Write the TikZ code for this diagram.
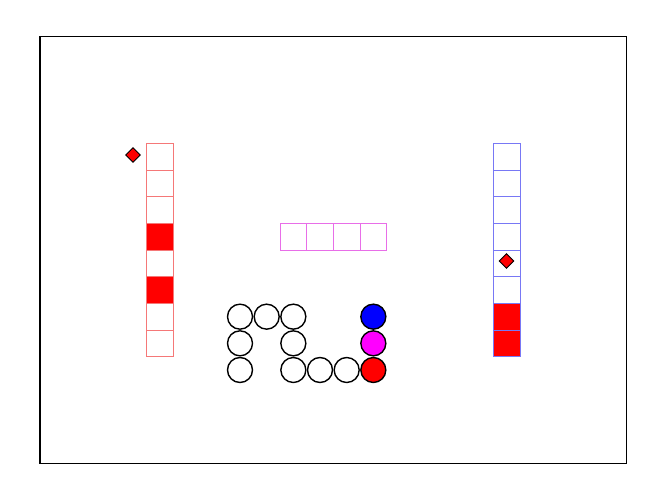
\documentclass[tikz,border=0pt]{standalone}
\usetikzlibrary{shapes.geometric}
\definecolor{pmag}{RGB}{255,0,255}
\definecolor{pmagline}{RGB}{232,110,232}
\definecolor{predline}{RGB}{245,120,120}
\definecolor{pblueline}{RGB}{120,120,245}
\begin{document}
\begin{tikzpicture}[x=1pt,y=-1pt,
  cellL/.style={draw=predline,line width=0.9pt},
  cellR/.style={draw=pblueline,line width=0.9pt},
  cellM/.style={draw=pmagline,line width=0.9pt},
  ball/.style={circle,draw=black,line width=1.4pt,minimum size=25pt,inner sep=0pt,fill=white},
  gem/.style={diamond,draw=black,fill=red,line width=0.9pt,minimum size=15pt,inner sep=0pt}]
\useasboundingbox (0,0) rectangle (666,500);
\def\u{26.667}
% frame
\draw[line width=1.5pt] (40,36.67) rectangle (626.67,463.33);
% left column
\foreach \k in {0,...,7}{
  \pgfmathsetmacro{\yy}{143.33+\k*\u}
  \ifnum\k=3 \fill[red] (146.67,\yy) rectangle ++(\u,\u);\fi
  \ifnum\k=5 \fill[red] (146.67,\yy) rectangle ++(\u,\u);\fi
  \draw[cellL] (146.67,\yy) rectangle ++(\u,\u);
}
% right column
\foreach \k in {0,...,7}{
  \pgfmathsetmacro{\yy}{143.33+\k*\u}
  \ifnum\k>5 \fill[red] (493.33,\yy) rectangle ++(\u,\u);\fi
  \draw[cellR] (493.33,\yy) rectangle ++(\u,\u);
}
% middle row
\foreach \j in {0,...,3}{
  \pgfmathsetmacro{\xx}{280+\j*\u}
  \draw[cellM] (\xx,223.33) rectangle ++(\u,\u);
}
% diamonds
\node[gem] (dl) at (133,155) {};
\node[gem] (dr) at (506.5,261) {};
% circles
\node[ball] (c1) at (240,316.67) {};
\node[ball] (c2) at (266.67,316.67) {};
\node[ball] (c3) at (293.33,316.67) {};
\node[ball] (c4) at (240,343.33) {};
\node[ball] (c5) at (293.33,343.33) {};
\node[ball] (c6) at (240,370) {};
\node[ball] (c7) at (293.33,370) {};
\node[ball] (c8) at (320,370) {};
\node[ball] (c9) at (346.67,370) {};
\node[ball,fill=red] (c10) at (373.33,370) {};
\node[ball,fill=pmag] (c11) at (373.33,343.33) {};
\node[ball,fill=blue] (c12) at (373.33,316.67) {};
\end{tikzpicture}
\end{document}
